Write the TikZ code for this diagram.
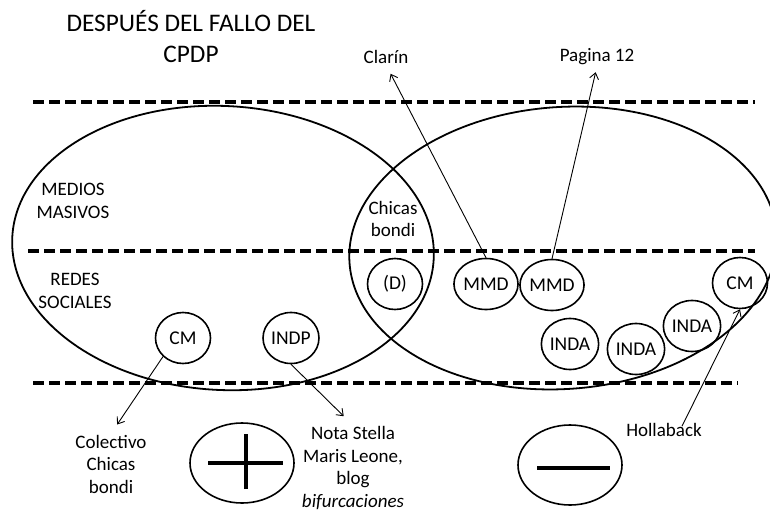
\documentclass[tikz,border=0pt]{standalone}
\usepackage{fontspec}
\setmainfont{Carlito}
\usepackage{tikz}
\usetikzlibrary{shapes.geometric,arrows.meta,positioning}
\tikzset{lbl/.style={draw=none, align=center, inner sep=1pt, font=\fontsize{19}{22.5}\selectfont}}
\tikzset{ttl/.style={draw=none, align=center, inner sep=1pt, font=\fontsize{25.3}{31}\selectfont}}
\tikzset{actor/.style={draw, ellipse, line width=1.6pt, minimum width=55pt, minimum height=51pt, inner sep=0pt, font=\fontsize{19.5}{20}\selectfont}}
\tikzset{sgn/.style={draw, ellipse, line width=1.6pt, minimum width=104pt, minimum height=80pt}}
\tikzset{
  level/.style={line width=4.5pt, dash pattern=on 11pt off 5pt},
  field/.style={line width=1.8pt},
  link/.style={line width=0.9pt, -{Straight Barb[length=6pt,width=9pt]}},
  bar/.style={line width=4pt}
}

\begin{document}
\begin{tikzpicture}[x=1pt, y=-1pt]
\useasboundingbox (0,0) rectangle (770,511);

\node[ttl](title) at (191,37) {DESPUÉS DEL FALLO DEL\\CPDP};

\draw[level] (33,102) -- (755,102);
\draw[level] (28,251) -- (755,251);
\draw[level] (33,383) -- (738,383);

\draw[field] (223,248) ellipse [x radius=211, y radius=142, rotate=-3];
\draw[field] (563,248) ellipse [x radius=214, y radius=141, rotate=4];

\node[lbl](medios) at (73,201) {MEDIOS\\MASIVOS};
\node[lbl](redes) at (75,291) {REDES\\SOCIALES};
\node[lbl](chicas) at (393,219) {Chicas\\bondi};

\node[actor](cmL) at (183,338) {CM};
\node[actor](indp) at (291,338) {INDP};
\node[actor](dd) at (395,284) {(D)};
\node[actor](mmdA) at (486,284) {MMD};
\node[actor](mmdB) at (552,285) {MMD};
\node[actor](cmR) at (740,283) {CM};
\node[actor](indaA) at (570,344) {INDA};
\node[actor](indaB) at (636,349) {INDA};
\node[actor](indaC) at (692,326) {INDA};

\node[lbl](clarin) at (386,57) {Clarín};
\node[lbl](pag) at (597,57) {Pagina 12};
\node[lbl](colect) at (111,464) {Colectivo\\Chicas\\bondi};
\node[lbl](nota) at (353,468) {Nota Stella\\Maris Leone,\\blog\\\textit{bifurcaciones}};
\node[lbl](holla) at (664,430) {Hollaback};

\draw[link, shorten >=10pt] (mmdA.north) -- (clarin.south);
\draw[link, shorten >=6pt] (mmdB.north) -- (pag.south);
\draw[link, shorten >=11pt] (cmL.south west) -- (colect.north);
\draw[link, shorten >=13pt] (indp.south) -- (nota.north);
\draw[link] ([xshift=18pt,yshift=-4pt]holla.north) -- (cmR.south);

\node[sgn](plus) at (242,463) {};
\draw[bar] ([xshift=-34pt]plus.center) -- ([xshift=41pt]plus.center);
\draw[bar] ([xshift=4pt,yshift=-26pt]plus.center) -- ([xshift=4pt,yshift=29pt]plus.center);
\node[sgn](minus) at (570,465) {};
\draw[bar] ([xshift=-33pt,yshift=-3pt]minus.center) -- ([xshift=40pt,yshift=-3pt]minus.center);
\end{tikzpicture}
\end{document}
